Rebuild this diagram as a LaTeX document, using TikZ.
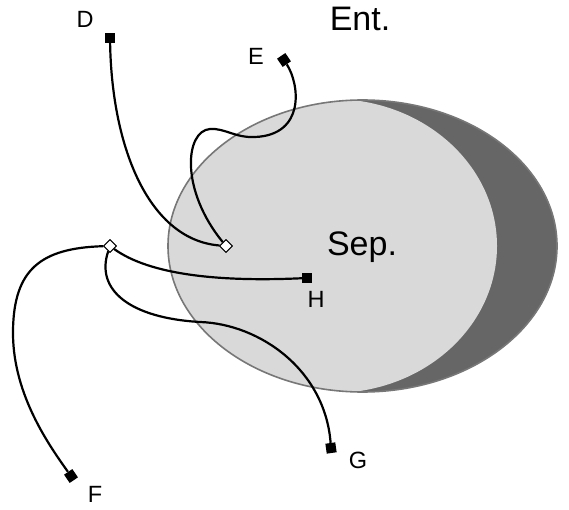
\documentclass[tikz,border=0pt]{standalone}
\usepackage{fontspec}
\setmainfont{Liberation Sans}
\usetikzlibrary{shapes.geometric}
\definecolor{darkfill}{HTML}{666666}
\definecolor{lightfill}{HTML}{D9D9D9}
\definecolor{edgegray}{HTML}{777777}
\tikzset{
  endsq/.style={rectangle, fill=black, draw=none, minimum size=10pt, inner sep=0pt},
  joint/.style={diamond, fill=white, draw=black, line width=0.9pt, minimum size=13pt, inner sep=0pt},
  wire/.style={line width=2.2pt, black},
  lbl/.style={font=\fontsize{23.5}{25}\selectfont, inner sep=0pt},
  biglbl/.style={font=\fontsize{34}{36}\selectfont, inner sep=0pt}
}
\begin{document}
\begin{tikzpicture}[x=1pt,y=-1pt]
\useasboundingbox (0,0) rectangle (569,510);
% shaded ellipse body
\fill[darkfill] (362.5,246) ellipse [x radius=194.5, y radius=146];
\begin{scope}
  \clip (362.5,246) ellipse [x radius=194.5, y radius=146];
  \fill[lightfill] (332.5,246) ellipse [x radius=164.5, y radius=147];
\end{scope}
\draw[edgegray, line width=1.6pt] (362.5,246) ellipse [x radius=194.5, y radius=146];
% texts
\node[biglbl] (ent) at (360,19) {Ent.};
\node[biglbl, anchor=base] (sep) at (362,255) {Sep.};
\node[lbl] (lD) at (85,19) {D};
\node[lbl] (lE) at (256,56) {E};
\node[lbl] (lH) at (316,299) {H};
\node[lbl] (lG) at (358,460) {G};
\node[lbl] (lF) at (95,494) {F};
% end markers
\node[endsq] (D) at (110,38) {};
\node[endsq, rotate=34] (E) at (284,60) {};
\node[endsq] (H) at (307,278) {};
\node[endsq, rotate=8] (G) at (331,448) {};
\node[endsq, rotate=34] (F) at (71,476) {};
% joints
\node[joint] (j1) at (226,246) {};
\node[joint] (j2) at (110,246) {};
% wires
\draw[wire] (D) .. controls (112,150) and (150,240) .. (j1);
\draw[wire] (E) .. controls (300,85) and (305,135) .. (255,137)
  .. controls (235,138) and (225,128) .. (210,129)
  .. controls (185,131) and (180,190) .. (j1);
\draw[wire] (j2) .. controls (40,248) and (14,270) .. (13,330)
  .. controls (12,390) and (45,440) .. (F);
\draw[wire] (j2) .. controls (150,275) and (220,282) .. (H);
\draw[wire] (j2) .. controls (95,290) and (130,318) .. (200,322)
  .. controls (260,324) and (325,370) .. (G);
% redraw joints on top
\node[joint] at (j1) {};
\node[joint] at (j2) {};
\end{tikzpicture}
\end{document}
